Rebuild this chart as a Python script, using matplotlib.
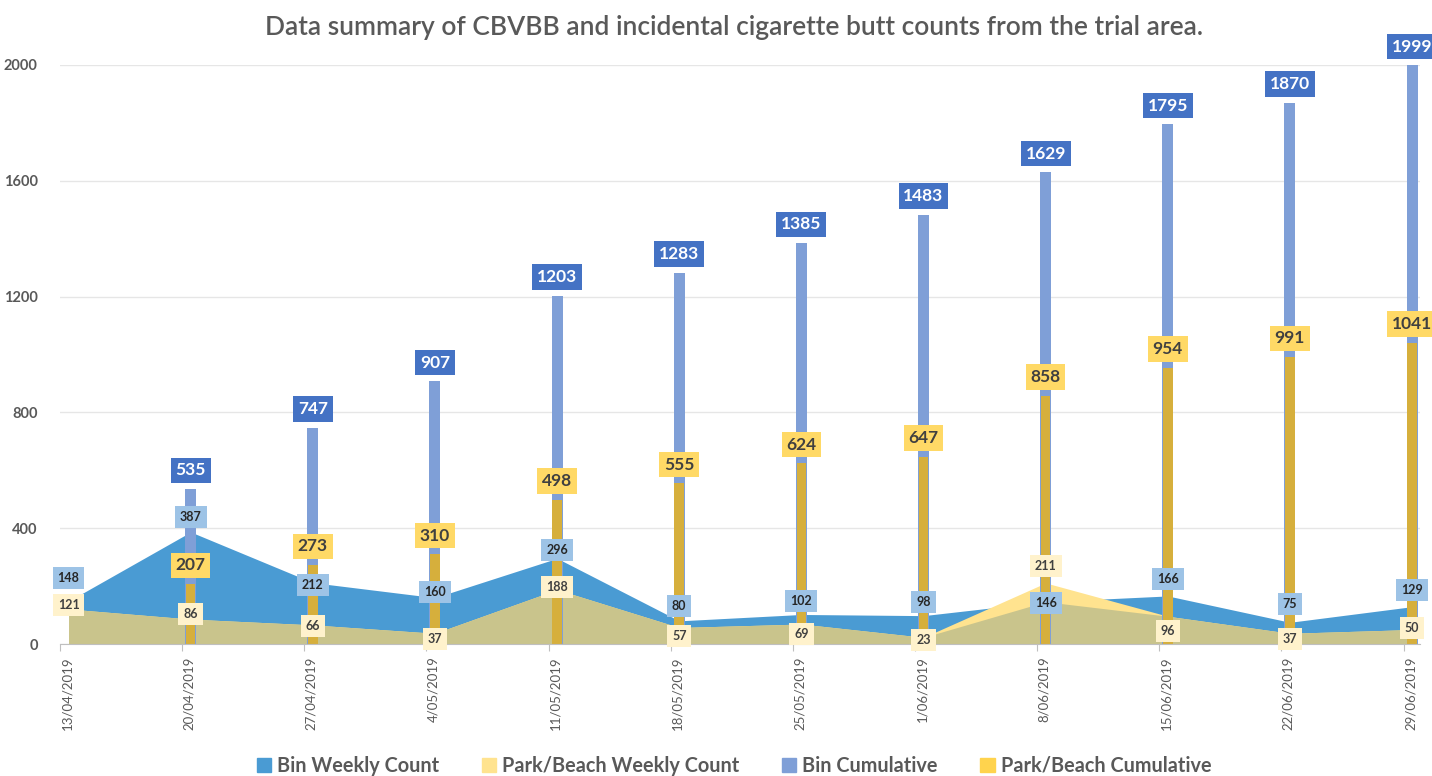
import matplotlib
matplotlib.use("Agg")
import matplotlib.pyplot as plt
import matplotlib.transforms as mtrans
from matplotlib.patches import Patch
import numpy as np

dates = ["13/04/2019", "20/04/2019", "27/04/2019", "4/05/2019", "11/05/2019", "18/05/2019",
         "25/05/2019", "1/06/2019", "8/06/2019", "15/06/2019", "22/06/2019", "29/06/2019"]
bin_weekly = [148, 387, 212, 160, 296, 80, 102, 98, 146, 166, 75, 129]
park_weekly = [121, 86, 66, 37, 188, 57, 69, 23, 211, 96, 37, 50]
bin_cumulative = [None, 535, 747, 907, 1203, 1283, 1385, 1483, 1629, 1795, 1870, 1999]
park_cumulative = [None, 207, 273, 310, 498, 555, 624, 647, 858, 954, 991, 1041]
yticks = [0, 400, 800, 1200, 1600, 2000]
title = "Data summary of CBVBB and incidental cigarette butt counts from the trial area."
legend_labels = ["Bin Weekly Count", "Park/Beach Weekly Count", "Bin Cumulative", "Park/Beach Cumulative"]

# label nudges in points (vertical)
bin_w_nudge = [17, 11, -2, 4, 6, 11, 10, 10, -1, 12, 13, 12]
park_w_nudge = [3, 4, -1, -4, 2, -6, -7, -2, 12, -11, -4, 1]

plt.rcParams['font.family'] = ['Lato', 'DejaVu Sans']

fig = plt.figure(figsize=(14.32, 7.76), dpi=100)
ax = fig.add_axes([60/1432, 1-644/776, 1360/1432, 579/776])

x = np.arange(len(dates))
bw = np.array(bin_weekly, float)
pw = np.array(park_weekly, float)

c_bin_area = "#4a9bd3"
c_park_area = "#ffe38f"
c_overlap = "#c9c48c"
c_bin_bar = "#7f9fd7"
c_park_bar = "#d6af3c"

ax.fill_between(x, 0, bw, color=c_bin_area, lw=0, zorder=1)
ax.fill_between(x, 0, pw, color=c_park_area, lw=0, zorder=1.5)
ax.fill_between(x, 0, np.minimum(bw, pw), color=c_overlap, lw=0, zorder=2)

bc = np.array([np.nan if v is None else v for v in bin_cumulative], float)
pc = np.array([np.nan if v is None else v for v in park_cumulative], float)
ax.bar(x, bc, width=0.09, color=c_bin_bar, zorder=3)
ax.bar(x, pc, width=0.078, color=c_park_bar, zorder=4)

ax.set_xlim(-0.065, 11.065)
ax.set_ylim(0, 2000)
ax.set_yticks(yticks)
ax.set_yticklabels([str(t) for t in yticks])
ax.grid(axis='y', color="#e6e6e6", lw=1, zorder=0)
ax.set_axisbelow(True)
for s in ["top", "right", "left"]:
    ax.spines[s].set_visible(False)
ax.spines["bottom"].set_color("#bfbfbf")
ax.spines["bottom"].set_zorder(5)
ax.tick_params(axis='y', length=0, labelsize=10.5, labelcolor="#595959", pad=16)
ax.set_xticks(x - 0.07)
ax.set_xticklabels(dates, rotation=90, fontsize=9.5, color="#595959")
for lbl in ax.get_xticklabels():
    lbl.set_horizontalalignment('center')
ax.tick_params(axis='x', length=5, color="#bfbfbf", pad=4)
off = mtrans.ScaledTranslation(7/100, 0, fig.dpi_scale_trans)
for lbl in ax.get_xticklabels():
    lbl.set_transform(lbl.get_transform() + off)
for lbl in ax.get_yticklabels():
    lbl.set_fontweight('bold')

# labels
for i in range(len(x)):
    if not np.isnan(bc[i]):
        ax.annotate(str(bin_cumulative[i]), (x[i], bc[i]), xytext=(0, 13.5), textcoords="offset points",
                    ha='center', va='center', fontsize=12.5, fontweight='bold', color='white',
                    bbox=dict(boxstyle='square,pad=0.27', fc="#4472c4", ec='none'),
                    zorder=10, annotation_clip=False)
    if not np.isnan(pc[i]):
        ax.annotate(str(park_cumulative[i]), (x[i], pc[i]), xytext=(0, 13.5), textcoords="offset points",
                    ha='center', va='center', fontsize=12.5, fontweight='bold', color='#404040',
                    bbox=dict(boxstyle='square,pad=0.27', fc="#ffd966", ec='none'),
                    zorder=10, annotation_clip=False)
    ax.annotate(str(bin_weekly[i]), (x[i], bw[i]), xytext=(0, bin_w_nudge[i]), textcoords="offset points",
                ha='center', va='center', fontsize=9, fontweight='bold', color='#262626',
                bbox=dict(boxstyle='square,pad=0.4', fc="#9dc3e6", ec='none'),
                zorder=9, annotation_clip=False)
    ax.annotate(str(park_weekly[i]), (x[i], pw[i]), xytext=(0, park_w_nudge[i]), textcoords="offset points",
                ha='center', va='center', fontsize=9, fontweight='bold', color='#404040',
                bbox=dict(boxstyle='square,pad=0.4', fc="#fff2cc", ec='none'),
                zorder=9, annotation_clip=False)

fig.text(0.5125, 1-28/776, title, ha='center', va='center', fontsize=19, fontweight='semibold', color="#595959")

handles = [Patch(color=c) for c in ["#4a9bd3", "#ffe38f", "#7f9fd7", "#ffd34d"]]
fig.legend(handles, legend_labels, loc='center', bbox_to_anchor=(0.5125, 1-766/776), ncol=4,
           frameon=False, handlelength=0.72, handleheight=0.72, handletextpad=0.3,
           columnspacing=2.15, prop={'weight': 'bold', 'size': 14.3})
for t in fig.legends[0].get_texts():
    t.set_color("#595959")

fig.savefig("out.png", dpi=100)
